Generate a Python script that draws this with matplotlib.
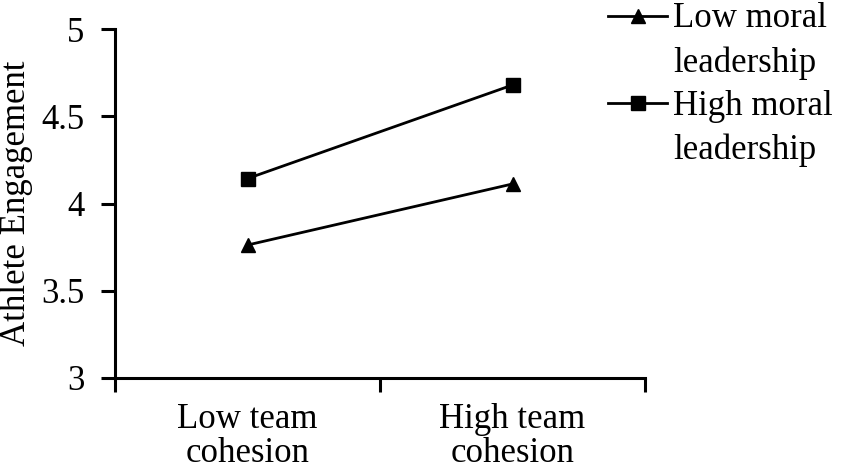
import matplotlib
matplotlib.use("Agg")
import matplotlib.pyplot as plt
from matplotlib.lines import Line2D

categories = ["Low team\ncohesion", "High team\ncohesion"]
series_names = ["Low moral\nleadership", "High moral\nleadership"]
low_moral = [3.762, 4.112]
high_moral = [4.143, 4.679]
y_ticks = [3, 3.5, 4, 4.5, 5]
y_tick_labels = ["3", "3.5", "4", "4.5", "5"]

plt.rcParams['font.family'] = ['Liberation Serif', 'DejaVu Serif']
FS = 25
W, H = 842, 471

fig = plt.figure(figsize=(W/100, H/100), dpi=100)
ax = fig.add_axes([115/W, 1-378/H, 530/W, (378-29)/H])

xpos = [0.5, 1.5]
lw = 2.0
ms = 10
series = [(low_moral, '^'), (high_moral, 's')]
for vals, mk in series:
    ax.plot(xpos, vals, color='black', lw=lw, marker=mk, markersize=ms, clip_on=False)

ax.set_xlim(0, 2)
ax.set_ylim(3, 5)
ax.set_yticks(y_ticks)
ax.set_yticklabels(y_tick_labels, fontsize=FS)
ax.set_xticks([0, 1, 2])
ax.set_xticklabels([])
ax.set_xticks(xpos, minor=True)
ax.set_xticklabels(categories, minor=True, fontsize=FS, linespacing=1.045)
ax.tick_params(axis='x', which='minor', length=0, pad=18)
ax.tick_params(axis='both', which='major', length=10, width=2.2, direction='out', color='black')
ax.tick_params(axis='y', pad=12)
for s in ['top', 'right']:
    ax.spines[s].set_visible(False)
for s in ['left', 'bottom']:
    ax.spines[s].set_linewidth(2.2)
ax.set_ylabel("Athlete Engagement", fontsize=FS, va='center')
ax.yaxis.set_label_coords((16-115)/530, 0.5)

# legend drawn by hand so the handle sits on the first line of each label
handle_y = [16, 103]
baselines = [[27, 72], [115, 159]]
for (vals, mk), name, hy, bl in zip(series, series_names, handle_y, baselines):
    fig.add_artist(Line2D([608/W, 667/W], [1-hy/H, 1-hy/H], transform=fig.transFigure,
                          color='black', lw=lw))
    fig.add_artist(Line2D([637.5/W], [1-hy/H], transform=fig.transFigure,
                          color='black', marker=mk, markersize=ms*0.95, linestyle='none'))
    for line, b in zip(name.split("\n"), bl):
        fig.text(673/W, 1-b/H, line, fontsize=FS, ha='left', va='baseline')

fig.savefig("out.png", dpi=100)
